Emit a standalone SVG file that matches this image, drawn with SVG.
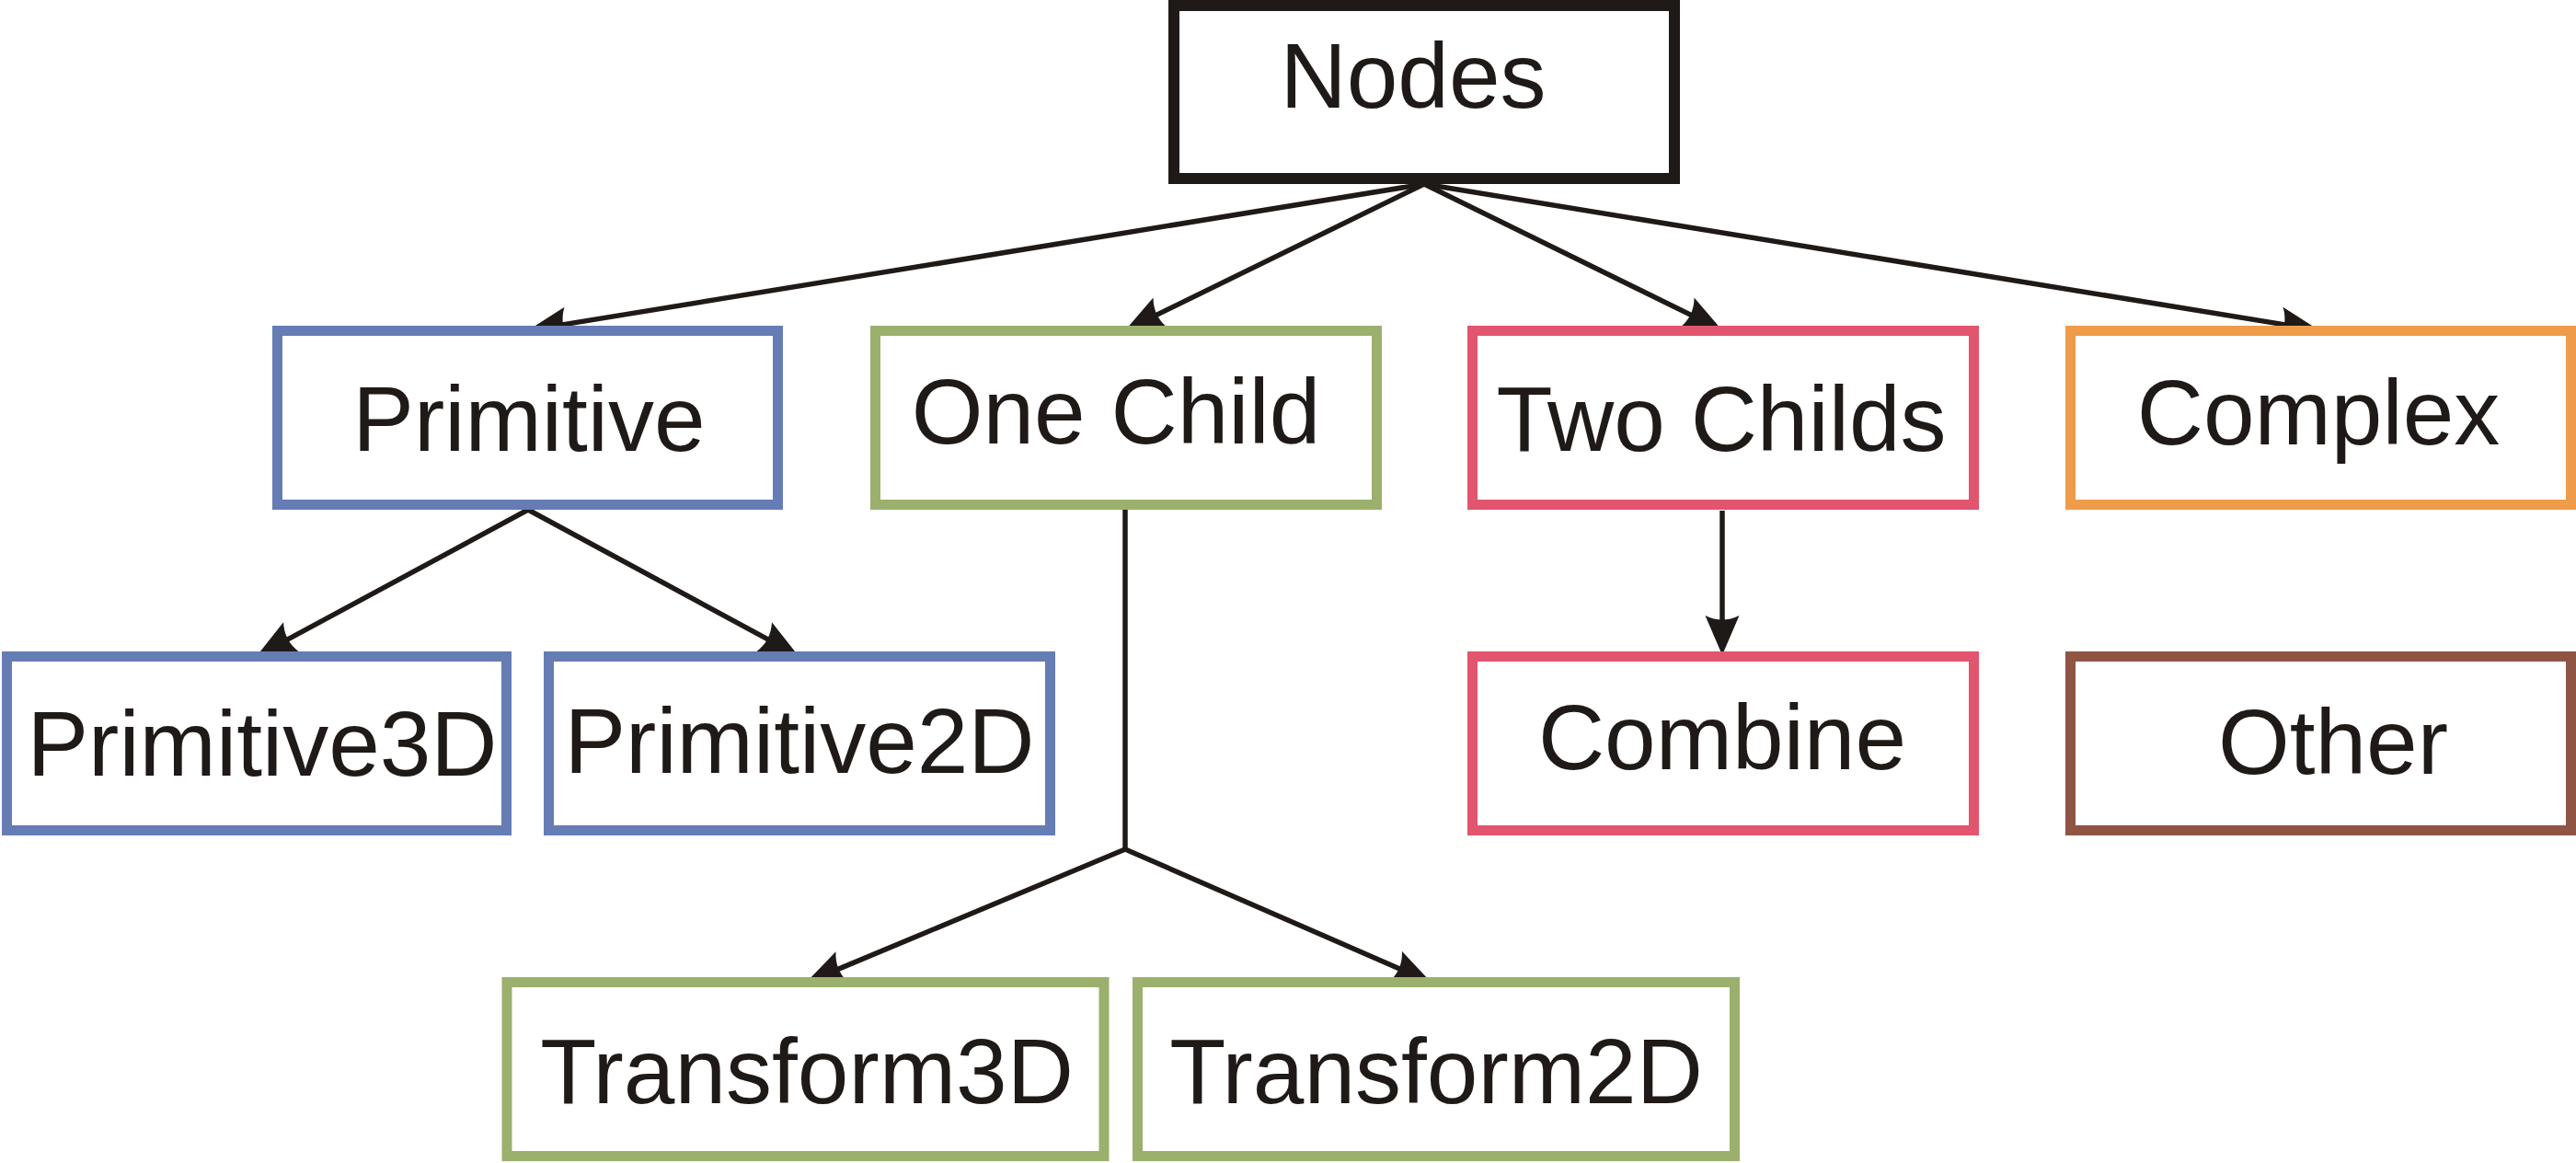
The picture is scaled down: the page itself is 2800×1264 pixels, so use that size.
<svg xmlns="http://www.w3.org/2000/svg" width="2800" height="1264" viewBox="0 0 2800 1264">
<style>
.box{fill:#ffffff;stroke-width:11}
.lbl{font-family:"Liberation Sans",Arial,sans-serif;font-size:100px;fill:#1f1a17;text-anchor:middle}
.blue{stroke:#657cb5}
.green{stroke:#9bb06c}
.red{stroke:#e2556e}
.orange{stroke:#ef9c4a}
.brown{stroke:#8f5444}
.edge{fill:none;stroke:#1f1a17;stroke-width:5.5}
.arr{marker-end:url(#ah)}
</style>
<defs>
<marker id="ah" markerUnits="userSpaceOnUse" viewBox="-46 -22 60 44" markerWidth="60" markerHeight="44" refX="-10" refY="0" orient="auto">
<path d="M0,0 L-43,-18.5 Q-34,0 -43,18.5 Z" fill="#1f1a17"/>
</marker>
</defs>
<rect width="2800" height="1264" fill="#ffffff"/>
<g id="connectors">
<line class="edge arr" x1="1548" y1="200" x2="583.9" y2="357.4"/>
<line class="edge arr" x1="1548" y1="200" x2="1232" y2="354.6"/>
<line class="edge arr" x1="1548" y1="200" x2="1863" y2="354.6"/>
<line class="edge arr" x1="1548" y1="200" x2="2511.1" y2="357.4"/>
<line class="edge arr" x1="574" y1="554" x2="287.8" y2="708.3"/>
<line class="edge arr" x1="574" y1="554" x2="859.2" y2="708.2"/>
<line class="edge arr" x1="1872" y1="555" x2="1872" y2="702"/>
<line class="edge" x1="1223" y1="554" x2="1223" y2="923"/>
<line class="edge arr" x1="1223" y1="923" x2="885.2" y2="1064.1"/>
<line class="edge arr" x1="1223" y1="923" x2="1546.8" y2="1064"/>
</g>
<g id="node-nodes">
<rect x="1276" y="6" width="544" height="188" fill="#ffffff" stroke="#1f1a17" stroke-width="12"/>
<text class="lbl" x="1536" y="117">Nodes</text>
</g>
<g id="node-primitive">
<rect class="box blue" x="301.5" y="359.5" width="544" height="189"/>
<text class="lbl" x="575" y="490">Primitive</text>
</g>
<g id="node-onechild">
<rect class="box green" x="951.5" y="359.5" width="545" height="189"/>
<text class="lbl" x="1213" y="482">One Child</text>
</g>
<g id="node-twochilds">
<rect class="box red" x="1600.5" y="359.5" width="545" height="189"/>
<text class="lbl" x="1871" y="490">Two Childs</text>
</g>
<g id="node-complex">
<rect class="box orange" x="2250.5" y="359.5" width="544" height="189"/>
<text class="lbl" x="2520" y="483">Complex</text>
</g>
<g id="node-primitive3d">
<rect class="box blue" x="7.5" y="713.5" width="543" height="189"/>
<text class="lbl" x="285" y="843">Primitive3D</text>
</g>
<g id="node-primitive2d">
<rect class="box blue" x="596.5" y="713.5" width="545" height="189"/>
<text class="lbl" x="869" y="840">Primitive2D</text>
</g>
<g id="node-combine">
<rect class="box red" x="1600.5" y="713.5" width="545" height="189"/>
<text class="lbl" x="1872" y="836">Combine</text>
</g>
<g id="node-other">
<rect class="box brown" x="2250.5" y="713.5" width="544" height="189"/>
<text class="lbl" x="2536" y="841">Other</text>
</g>
<g id="node-transform3d">
<rect class="box green" x="551" y="1067.5" width="649" height="189"/>
<text class="lbl" x="877" y="1199">Transform3D</text>
</g>
<g id="node-transform2d">
<rect class="box green" x="1236.5" y="1067.5" width="649" height="189"/>
<text class="lbl" x="1561" y="1199">Transform2D</text>
</g>
</svg>
